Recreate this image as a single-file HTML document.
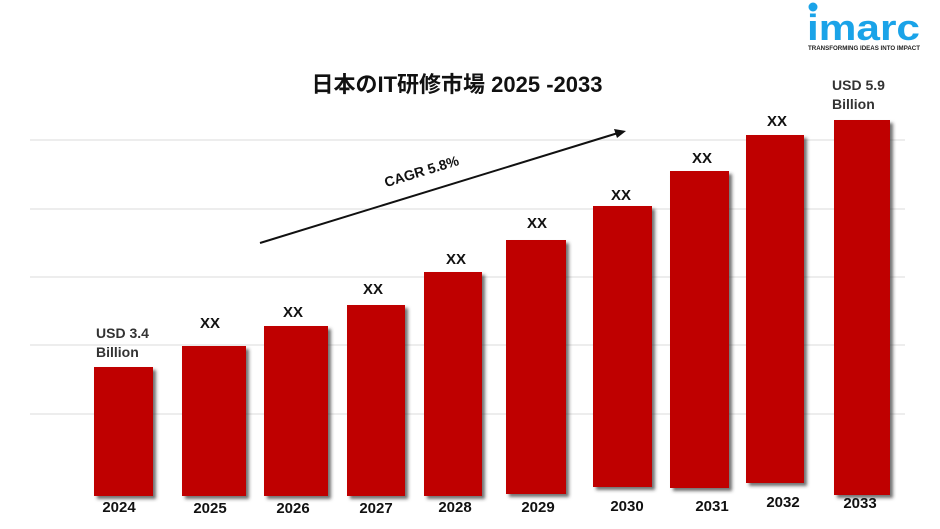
<!DOCTYPE html>
<html><head><meta charset="utf-8"><style>
html,body{margin:0;padding:0;background:#fff;}
svg{display:block;}
text{font-family:"Liberation Sans","Noto Sans CJK JP",sans-serif;}
</style></head><body>
<svg width="940" height="529" viewBox="0 0 940 529" xmlns="http://www.w3.org/2000/svg">
<defs>
<filter id="sh" x="-10%" y="-5%" width="130%" height="120%">
<feDropShadow dx="3" dy="3" stdDeviation="1.5" flood-color="#333" flood-opacity="0.7"/>
</filter>
</defs>
<g stroke="#e2e2e2" stroke-width="1.2">
<line x1="30" y1="140" x2="905" y2="140"/>
<line x1="30" y1="209" x2="905" y2="209"/>
<line x1="30" y1="277" x2="905" y2="277"/>
<line x1="30" y1="345" x2="905" y2="345"/>
<line x1="30" y1="414" x2="905" y2="414"/>
</g>
<g fill="#bf0000" filter="url(#sh)">
<rect x="94" y="367" width="59" height="129"/>
<rect x="182" y="346" width="64" height="150"/>
<rect x="264" y="326" width="64" height="170"/>
<rect x="347" y="305" width="58" height="191"/>
<rect x="424" y="272" width="58" height="224"/>
<rect x="506" y="240" width="60" height="254"/>
<rect x="593" y="206" width="59" height="281"/>
<rect x="670" y="171" width="59" height="317"/>
<rect x="746" y="135" width="58" height="348"/>
<rect x="834" y="120" width="56" height="375"/>
</g>
<g font-size="15" font-weight="bold" fill="#111" text-anchor="middle">
<text x="210" y="328">XX</text>
<text x="293" y="317">XX</text>
<text x="373" y="294">XX</text>
<text x="456" y="264">XX</text>
<text x="537" y="228">XX</text>
<text x="621" y="200">XX</text>
<text x="702" y="163">XX</text>
<text x="777" y="126">XX</text>
</g>
<g font-size="14" font-weight="bold" fill="#333">
<text x="96" y="338">USD 3.4</text>
<text x="96" y="357">Billion</text>
<text x="832" y="90">USD 5.9</text>
<text x="832" y="109">Billion</text>
</g>
<g font-size="15" font-weight="bold" fill="#111" text-anchor="middle">
<text x="119" y="512">2024</text>
<text x="210" y="513">2025</text>
<text x="293" y="513">2026</text>
<text x="376" y="513">2027</text>
<text x="455" y="512">2028</text>
<text x="538" y="512">2029</text>
<text x="627" y="511">2030</text>
<text x="712" y="511">2031</text>
<text x="783" y="507">2032</text>
<text x="860" y="508">2033</text>
</g>
<text x="457" y="92" font-size="22" font-weight="bold" fill="#111" text-anchor="middle">日本のIT研修市場 2025 -2033</text>
<line x1="260" y1="243" x2="618" y2="133" stroke="#111" stroke-width="2"/>
<polygon points="626,131 614,129 617,138" fill="#111"/>
<text x="0" y="0" font-size="14" font-weight="bold" fill="#111" text-anchor="middle" transform="translate(423,176) rotate(-17)">CAGR 5.8%</text>
<circle cx="813" cy="7" r="4.5" fill="#1aa3e8"/>
<text x="807" y="40" font-size="36" font-weight="bold" fill="#1aa3e8" textLength="113" lengthAdjust="spacingAndGlyphs">imarc</text>
<text x="808" y="50" font-size="6.5" font-weight="bold" fill="#222" textLength="112" lengthAdjust="spacingAndGlyphs">TRANSFORMING IDEAS INTO IMPACT</text>
</svg>
</body></html>
